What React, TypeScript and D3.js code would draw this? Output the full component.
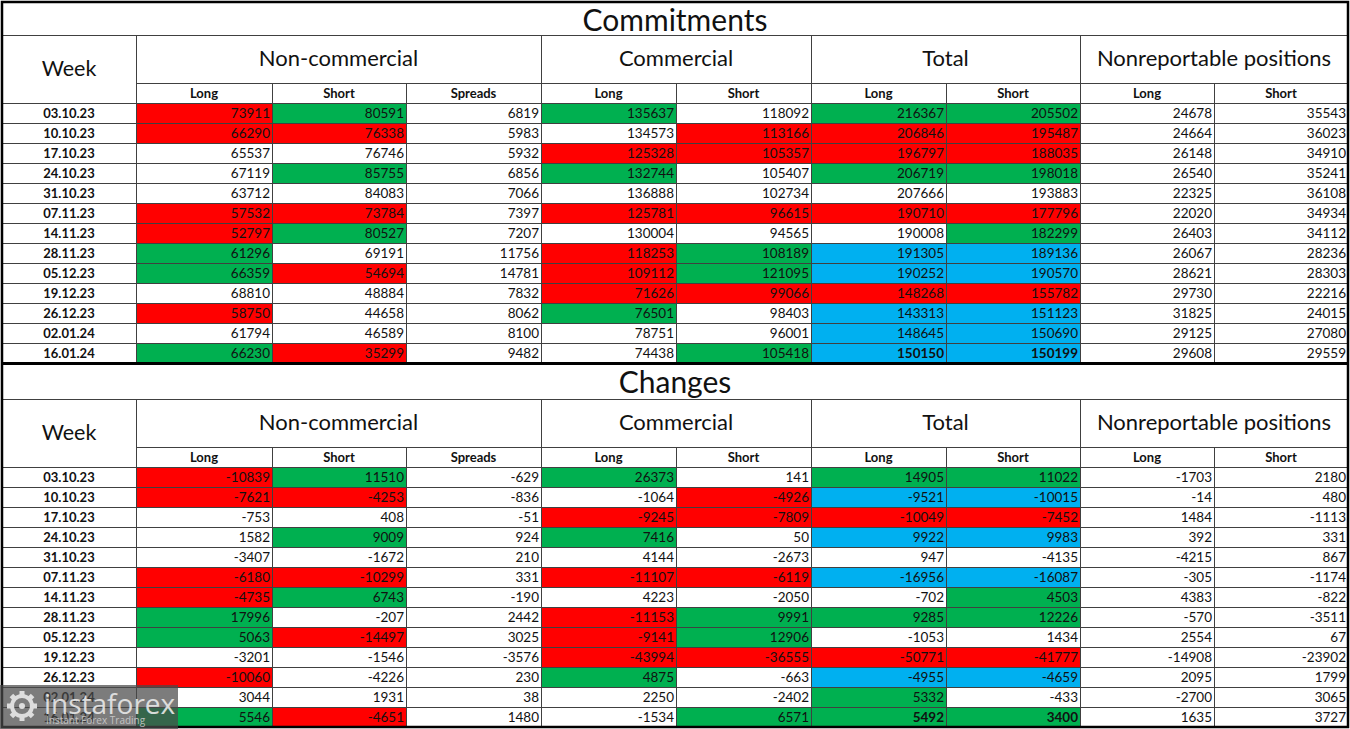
import React from "react";
import * as d3 from "d3";

// weeks shown in both tables
const weeks = [
  "03.10.23", "10.10.23", "17.10.23", "24.10.23", "31.10.23", "07.11.23", "14.11.23",
  "28.11.23", "05.12.23", "19.12.23", "26.12.23", "02.01.24", "16.01.24",
];

const groups = ["Non-commercial", "Commercial", "Total", "Nonreportable positions"];
const subLabels = ["Long", "Short", "Spreads", "Long", "Short", "Long", "Short", "Long", "Short"];
const subGroup = [0, 0, 0, 1, 1, 2, 2, 3, 3];

// Commitments
const comNcLong = [73911, 66290, 65537, 67119, 63712, 57532, 52797, 61296, 66359, 68810, 58750, 61794, 66230];
const comNcShort = [80591, 76338, 76746, 85755, 84083, 73784, 80527, 69191, 54694, 48884, 44658, 46589, 35299];
const comSpreads = [6819, 5983, 5932, 6856, 7066, 7397, 7207, 11756, 14781, 7832, 8062, 8100, 9482];
const comCLong = [135637, 134573, 125328, 132744, 136888, 125781, 130004, 118253, 109112, 71626, 76501, 78751, 74438];
const comCShort = [118092, 113166, 105357, 105407, 102734, 96615, 94565, 108189, 121095, 99066, 98403, 96001, 105418];
const comTLong = [216367, 206846, 196797, 206719, 207666, 190710, 190008, 191305, 190252, 148268, 143313, 148645, 150150];
const comTShort = [205502, 195487, 188035, 198018, 193883, 177796, 182299, 189136, 190570, 155782, 151123, 150690, 150199];
const comNrLong = [24678, 24664, 26148, 26540, 22325, 22020, 26403, 26067, 28621, 29730, 31825, 29125, 29608];
const comNrShort = [35543, 36023, 34910, 35241, 36108, 34934, 34112, 28236, 28303, 22216, 24015, 27080, 29559];

// highlight codes: G = green, R = red, B = blue, "" = none
const comNcLongMark = ["R", "R", "", "", "", "R", "R", "G", "G", "", "R", "", "G"];
const comNcShortMark = ["G", "R", "", "G", "", "R", "G", "", "R", "", "", "", "R"];
const comCLongMark = ["G", "", "R", "G", "", "R", "", "R", "R", "R", "G", "", ""];
const comCShortMark = ["", "R", "R", "", "", "R", "", "G", "G", "R", "", "", "G"];
const comTLongMark = ["G", "R", "R", "G", "", "R", "", "B", "B", "R", "B", "B", "B"];
const comTShortMark = ["G", "R", "R", "G", "", "R", "G", "B", "B", "R", "B", "B", "B"];

// Changes
const chgNcLong = [-10839, -7621, -753, 1582, -3407, -6180, -4735, 17996, 5063, -3201, -10060, 3044, 5546];
const chgNcShort = [11510, -4253, 408, 9009, -1672, -10299, 6743, -207, -14497, -1546, -4226, 1931, -4651];
const chgSpreads = [-629, -836, -51, 924, 210, 331, -190, 2442, 3025, -3576, 230, 38, 1480];
const chgCLong = [26373, -1064, -9245, 7416, 4144, -11107, 4223, -11153, -9141, -43994, 4875, 2250, -1534];
const chgCShort = [141, -4926, -7809, 50, -2673, -6119, -2050, 9991, 12906, -36555, -663, -2402, 6571];
const chgTLong = [14905, -9521, -10049, 9922, 947, -16956, -702, 9285, -1053, -50771, -4955, 5332, 5492];
const chgTShort = [11022, -10015, -7452, 9983, -4135, -16087, 4503, 12226, 1434, -41777, -4659, -433, 3400];
const chgNrLong = [-1703, -14, 1484, 392, -4215, -305, 4383, -570, 2554, -14908, 2095, -2700, 1635];
const chgNrShort = [2180, 480, -1113, 331, 867, -1174, -822, -3511, 67, -23902, 1799, 3065, 3727];

const chgNcLongMark = ["R", "R", "", "", "", "R", "R", "G", "G", "", "R", "", "G"];
const chgNcShortMark = ["G", "R", "", "G", "", "R", "G", "", "R", "", "", "", "R"];
const chgCLongMark = ["G", "", "R", "G", "", "R", "", "R", "R", "R", "G", "", ""];
const chgCShortMark = ["", "R", "R", "", "", "R", "", "G", "G", "R", "", "", "G"];
const chgTLongMark = ["G", "B", "R", "B", "", "B", "", "G", "", "R", "B", "G", "G"];
const chgTShortMark = ["G", "B", "R", "B", "", "B", "G", "G", "", "R", "B", "", "G"];

const none = weeks.map(() => "");

const commitments = {
  title: "Commitments",
  cols: [comNcLong, comNcShort, comSpreads, comCLong, comCShort, comTLong, comTShort, comNrLong, comNrShort],
  marks: [comNcLongMark, comNcShortMark, none, comCLongMark, comCShortMark, comTLongMark, comTShortMark, none, none],
};
const changes = {
  title: "Changes",
  cols: [chgNcLong, chgNcShort, chgSpreads, chgCLong, chgCShort, chgTLong, chgTShort, chgNrLong, chgNrShort],
  marks: [chgNcLongMark, chgNcShortMark, none, chgCLongMark, chgCShortMark, chgTLongMark, chgTShortMark, none, none],
};

// layout
const W = 1350;
const H = 729;
const xEdges = [2, 136, 272, 406, 541, 676, 811, 946, 1080, 1214, 1348];
const groupEdges = [[136, 541], [541, 811], [811, 1080], [1080, 1348]];
const headH = 48;
const subH = 20;
const rowH = 20;

const fillScale = d3.scaleOrdinal<string, string>()
  .domain(["G", "R", "B"])
  .range(["#00b050", "#ff0000", "#00b0f0"])
  .unknown("#ffffff");

const font = "Lato, 'Open Sans', sans-serif";
const grid = "#404040";

function Section({ top, titleH, table }: any) {
  const headTop = top + titleH;
  const subTop = headTop + headH;
  const rowsTop = subTop + subH;
  const y = d3.scaleBand<string>()
    .domain(weeks)
    .range([rowsTop, rowsTop + rowH * weeks.length]);
  // plain hyphen for negatives, as in the source sheet
  const fmt = (v: number) => String(v);

  return (
    <g>
      <text x={W / 2} y={top + titleH / 2 + 12} textAnchor="middle" fontSize={30} fontFamily={font} fill="#111">
        {table.title}
      </text>
      <line x1={2} x2={1348} y1={headTop + 0.5} y2={headTop + 0.5} stroke={grid} />

      {/* Week header cell */}
      <rect x={2.5} y={headTop + 0.5} width={134} height={headH + subH} fill="none" stroke={grid} />
      <text x={69} y={headTop + 41} textAnchor="middle" fontSize={21.5} fontFamily={font} fill="#111">Week</text>

      {groupEdges.map(([a, b], i) => (
        <g key={groups[i]}>
          <rect x={a + 0.5} y={headTop + 0.5} width={b - a} height={headH} fill="none" stroke={grid} />
          <text x={(a + b) / 2} y={headTop + 31} textAnchor="middle" fontSize={22} fontFamily={font} fill="#111">
            {groups[i]}
          </text>
        </g>
      ))}

      {subLabels.map((s, j) => (
        <g key={"s" + j}>
          <rect x={xEdges[j + 1] + 0.5} y={subTop + 0.5} width={xEdges[j + 2] - xEdges[j + 1]} height={subH}
            fill="#fff" stroke={grid} />
          <text x={(xEdges[j + 1] + xEdges[j + 2]) / 2} y={subTop + 15} textAnchor="middle" fontSize={13}
            fontWeight="bold" fontFamily={font} fill="#111">{s}</text>
        </g>
      ))}

      {weeks.map((w, i) => (
        <g key={w}>
          <rect x={2.5} y={(y(w) as number) + 0.5} width={134} height={y.bandwidth()} fill="#fff" stroke={grid} />
          <text x={69} y={(y(w) as number) + 15} textAnchor="middle" fontSize={13} fontWeight="bold"
            fontFamily={font} fill="#111">{w}</text>
          {table.cols.map((col: number[], j: number) => {
            const x0 = xEdges[j + 1];
            const x1 = xEdges[j + 2];
            const bold = subGroup[j] === 2 && i === weeks.length - 1;
            return (
              <g key={j}>
                <rect x={x0 + 0.5} y={(y(w) as number) + 0.5} width={x1 - x0} height={y.bandwidth()}
                  fill={fillScale(table.marks[j][i])} stroke={grid} />
                <text x={x1 - 2} y={(y(w) as number) + 15} textAnchor="end" fontSize={13.5}
                  fontWeight={bold ? "bold" : "normal"} fontFamily={font} fill="#111">{fmt(col[i])}</text>
              </g>
            );
          })}
        </g>
      ))}
    </g>
  );
}

function Watermark() {
  const teeth = d3.range(8).map((k) => (k * Math.PI) / 4);
  return (
    <g>
      <rect x={0} y={685} width={178} height={44} fill="#4a4a4a" opacity={0.72} />
      <g transform="translate(22,706)" fill="#ddd">
        <circle r={10} fill="none" stroke="#ddd" strokeWidth={4} />
        {teeth.map((a, k) => (
          <rect key={k} x={-2.5} y={-15} width={5} height={5} transform={`rotate(${(a * 180) / Math.PI})`} />
        ))}
        <circle r={3} />
      </g>
      <text x={44} y={714} fontSize={28} fontFamily="'Open Sans', sans-serif" fill="#e8e8e8" opacity={0.9}>
        instaforex
      </text>
      <text x={46} y={724} fontSize={10} fontFamily="'Open Sans', sans-serif" fill="#d0d0d0" opacity={0.85}>
        Instant Forex Trading
      </text>
    </g>
  );
}

export default function App() {
  return (
    <div style={{ position: "absolute", left: 0, top: 0, background: "#fff" }}>
      <svg width={W} height={H} style={{ display: "block" }}>
        <rect width={W} height={H} fill="#fff" />
        <Section top={2} titleH={33} table={commitments} />
        <Section top={363} titleH={36} table={changes} />
        <line x1={2} x2={1348} y1={363.5} y2={363.5} stroke="#000" strokeWidth={3} />
        <rect x={2} y={2} width={1346} height={725} fill="none" stroke="#000" strokeWidth={2.5} />
        <Watermark />
      </svg>
    </div>
  );
}
